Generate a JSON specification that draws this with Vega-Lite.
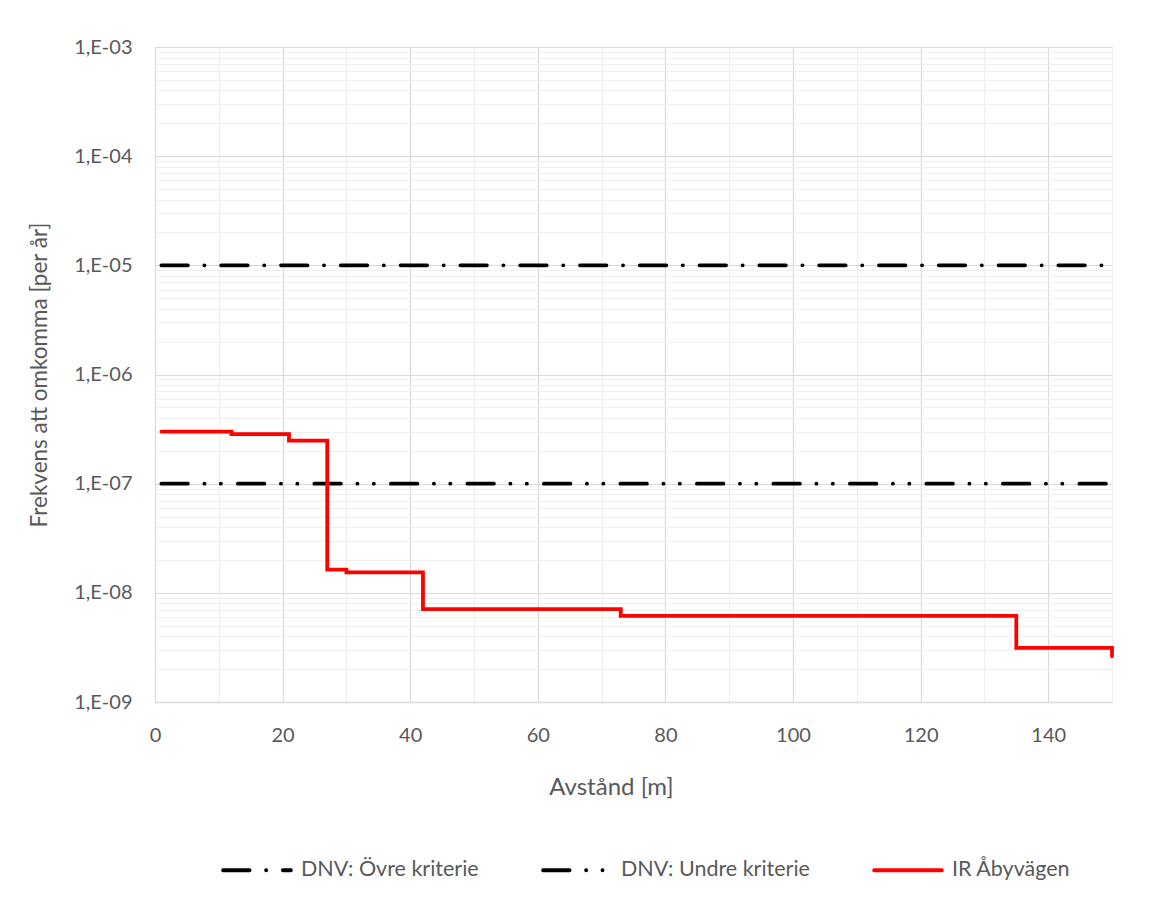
{
  "$schema": "https://vega.github.io/schema/vega-lite/v6.json",
  "width": 957,
  "height": 655,
  "autosize": {"type": "none"},
  "padding": {"left": 155, "top": 47, "right": 64, "bottom": 197},
  "background": "white",
  "config": {
    "view": {"stroke": null},
    "font": "Lato",
    "axis": {
      "labelFont": "Lato",
      "titleFont": "Lato",
      "labelColor": "#595959",
      "titleColor": "#595959",
      "labelFontSize": 20,
      "titleFontSize": 22,
      "titleFontWeight": "normal",
      "ticks": false,
      "labelFlush": false,
      "labelOverlap": false,
      "gridWidth": 1.2
    }
  },
  "data": {
    "values": [
      {"serie": "DNV: Övre kriterie", "avstand": 1, "frekvens": 1e-5},
      {"serie": "DNV: Övre kriterie", "avstand": 150, "frekvens": 1e-5},
      {"serie": "DNV: Undre kriterie", "avstand": 1, "frekvens": 1e-7},
      {"serie": "DNV: Undre kriterie", "avstand": 150, "frekvens": 1e-7},
      {"serie": "IR Åbyvägen", "avstand": 1, "frekvens": 3.0e-7},
      {"serie": "IR Åbyvägen", "avstand": 12, "frekvens": 2.84e-7},
      {"serie": "IR Åbyvägen", "avstand": 21, "frekvens": 2.48e-7},
      {"serie": "IR Åbyvägen", "avstand": 27, "frekvens": 1.63e-8},
      {"serie": "IR Åbyvägen", "avstand": 30, "frekvens": 1.54e-8},
      {"serie": "IR Åbyvägen", "avstand": 42, "frekvens": 7.1e-9},
      {"serie": "IR Åbyvägen", "avstand": 73, "frekvens": 6.15e-9},
      {"serie": "IR Åbyvägen", "avstand": 135, "frekvens": 3.13e-9},
      {"serie": "IR Åbyvägen", "avstand": 150, "frekvens": 2.62e-9}
    ]
  },
  "mark": {
    "type": "line",
    "interpolate": "step-after",
    "strokeWidth": 3.8,
    "strokeCap": "round",
    "strokeJoin": "miter"
  },
  "encoding": {
    "x": {
      "field": "avstand",
      "type": "quantitative",
      "title": "Avstånd [m]",
      "scale": {"domain": [0, 150], "nice": false, "zero": false},
      "axis": {
        "values": [0, 10, 20, 30, 40, 50, 60, 70, 80, 90, 100, 110, 120, 130, 140, 150],
        "format": "d",
        "labelExpr": "datum.value % 20 == 0 ? datum.label : ''",
        "gridColor": {"condition": {"test": "datum.value % 20 == 0", "value": "#d9d9d9"}, "value": "#efefef"},
        "domainColor": "#d9d9d9",
        "domainWidth": 1.5,
        "labelPadding": 23,
        "titleFontSize": 24,
        "titlePadding": 30,
        "titleX": 456
      }
    },
    "y": {
      "field": "frekvens",
      "type": "quantitative",
      "title": "Frekvens att omkomma [per år]",
      "scale": {"type": "log", "domain": [1e-9, 1e-3], "nice": false},
      "axis": {
        "values": [
          1e-9, 2e-9, 3e-9, 4e-9, 5e-9, 6e-9, 7e-9, 8e-9, 9e-9,
          1e-8, 2e-8, 3e-8, 4e-8, 5e-8, 6e-8, 7e-8, 8e-8, 9e-8,
          1e-7, 2e-7, 3e-7, 4e-7, 5e-7, 6e-7, 7e-7, 8e-7, 9e-7,
          1e-6, 2e-6, 3e-6, 4e-6, 5e-6, 6e-6, 7e-6, 8e-6, 9e-6,
          1e-5, 2e-5, 3e-5, 4e-5, 5e-5, 6e-5, 7e-5, 8e-5, 9e-5,
          1e-4, 2e-4, 3e-4, 4e-4, 5e-4, 6e-4, 7e-4, 8e-4, 9e-4,
          1e-3
        ],
        "labelExpr": "abs(log(datum.value)/LN10 - round(log(datum.value)/LN10)) < 0.001 ? '1,E-0' + (-round(log(datum.value)/LN10)) : ''",
        "gridColor": {"condition": {"test": "abs(log(datum.value)/LN10 - round(log(datum.value)/LN10)) < 0.001", "value": "#d9d9d9"}, "value": "#efefef"},
        "domain": false,
        "labelPadding": 23,
        "titleFontSize": 22.5,
        "titlePadding": 22
      }
    },
    "color": {
      "field": "serie",
      "type": "nominal",
      "scale": {
        "domain": ["DNV: Övre kriterie", "DNV: Undre kriterie", "IR Åbyvägen"],
        "range": ["#000000", "#000000", "#ff0000"]
      },
      "legend": {
        "orient": "none",
        "legendX": 66,
        "legendY": 787,
        "direction": "horizontal",
        "title": null,
        "symbolType": "stroke",
        "symbolSize": 4600,
        "symbolStrokeWidth": 3.8,
        "labelFont": "Lato",
        "labelFontSize": 21.5,
        "labelColor": "#595959",
        "labelOffset": 8,
        "columnPadding": 56,
        "labelLimit": 400,
        "encode": {"symbols": {"update": {"strokeCap": {"value": "round"}}}}
      }
    },
    "strokeDash": {
      "field": "serie",
      "type": "nominal",
      "scale": {
        "domain": ["DNV: Övre kriterie", "DNV: Undre kriterie", "IR Åbyvägen"],
        "range": [[26.5, 16.5, 0.1, 16.7], [26.5, 16.5, 0.1, 16.3, 0.1, 17], [1, 0]]
      },
      "legend": null
    }
  }
}
